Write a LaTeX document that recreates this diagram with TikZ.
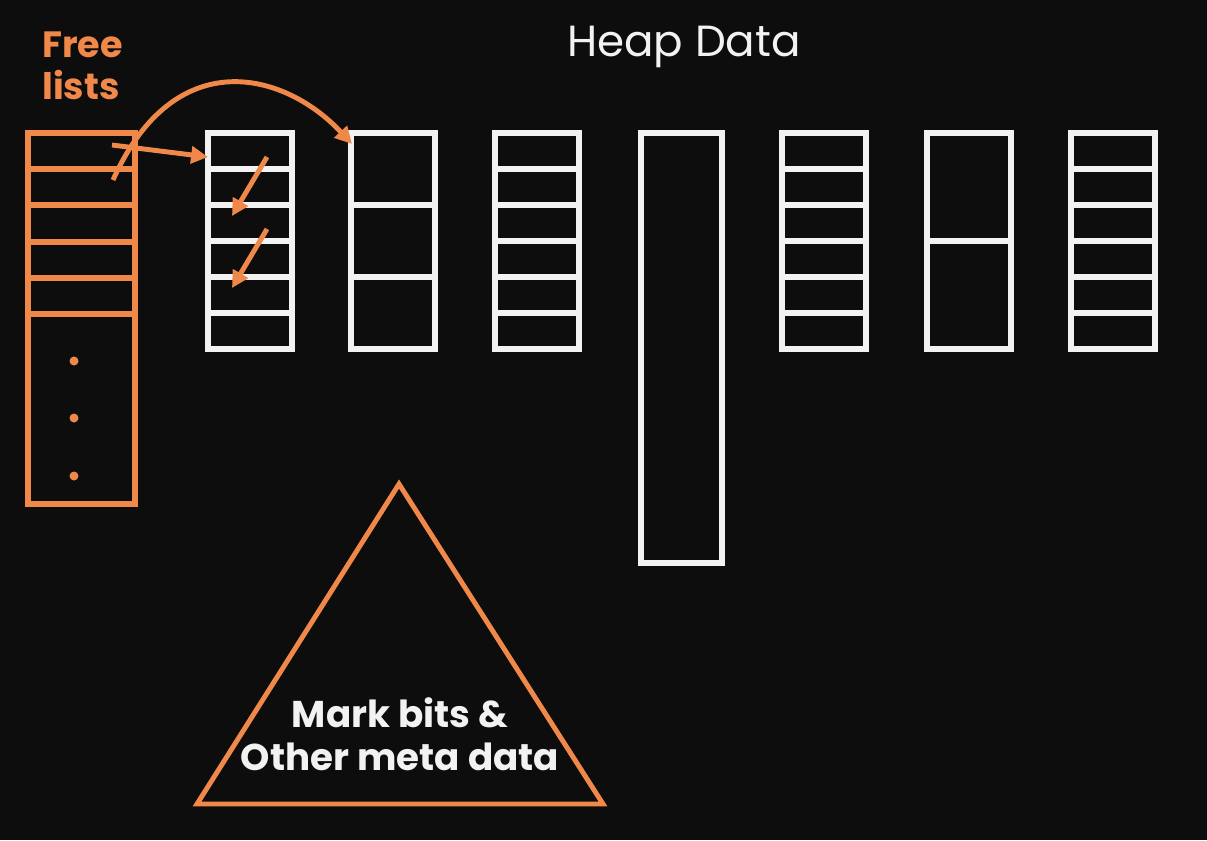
\documentclass[tikz,border=0pt]{standalone}
\usepackage{fontspec}
\setmainfont{Poppins}
\usepackage{tikz}
\usetikzlibrary{arrows.meta}
\definecolor{ink}{RGB}{13, 13, 13}
\definecolor{flame}{RGB}{240, 136, 74}
\definecolor{chalk}{RGB}{242, 242, 242}

\tikzset{
  slab/.style={chalk, line width=4pt},
  freebox/.style={flame, line width=4pt},
  link/.style={flame, line width=3.5pt, -{Triangle[length=12pt, width=12pt]}},
}

\begin{document}
\begin{tikzpicture}[x=0.025cm, y=-0.025cm]
            % Background & frame
            \fill[ink] (0, 0) rectangle (1207, 840);
            \useasboundingbox (0, 0) rectangle (1207, 840);
            % Titles
            \node[flame, font=\bfseries\fontsize{26}{30}\selectfont, align=left, anchor=base west, inner sep=0pt]
                 (freetitle) at (42, 100) {Free\\lists};
            \node[chalk, font=\fontsize{31}{36}\selectfont, anchor=base, inner sep=0pt]
                 (heaptitle) at (684, 57) {Heap Data};
            % Free lists
            \draw[freebox] (28, 133) rectangle (135, 504);
            \foreach \y in {169, 205, 242, 278, 314}
                \draw[freebox] (28, \y) -- (135, \y);
            \foreach \y in {361, 418, 476}
                \fill[flame] (74, \y) circle (3.2pt);
            % Heap blocks
            \foreach \x/\n in {208/6, 351/3, 495/6, 782/6, 927/2, 1071/6} {
                \draw[slab] (\x, 133) rectangle (\x+84, 349);
                \foreach \k in {2,...,\n}
                    \draw[slab] (\x, {133+(\k-1)*216/\n}) -- (\x+84, {133+(\k-1)*216/\n});
            }
            \draw[slab] (641, 133) rectangle (722, 563);
            % Pointers
            \coordinate (head1) at (112, 145);
            \coordinate (head2) at (113, 180);
            \coordinate (slotA) at (208, 157);
            \coordinate (slotB) at (352, 144);
            \coordinate (cellA) at (267, 157);
            \coordinate (cellB) at (232, 216);
            \coordinate (cellC) at (267, 229);
            \coordinate (cellD) at (232, 288);
            \draw[link] (head1) -- (slotA);
            \draw[link] (head2) .. controls (175, 42) and (285, 72) .. (slotB);
            \draw[link] (cellA) -- (cellB);
            \draw[link] (cellC) -- (cellD);
            % Meta data
            \draw[freebox, line width=3.5pt] (399, 484) -- (603, 804) -- (197, 804) -- cycle;
            \node[chalk, font=\bfseries\fontsize{26.5}{30}\selectfont, align=center, anchor=base, inner sep=0pt]
                 (metatext) at (400, 770) {Mark bits \&\\Other meta data};
\end{tikzpicture}
\end{document}
